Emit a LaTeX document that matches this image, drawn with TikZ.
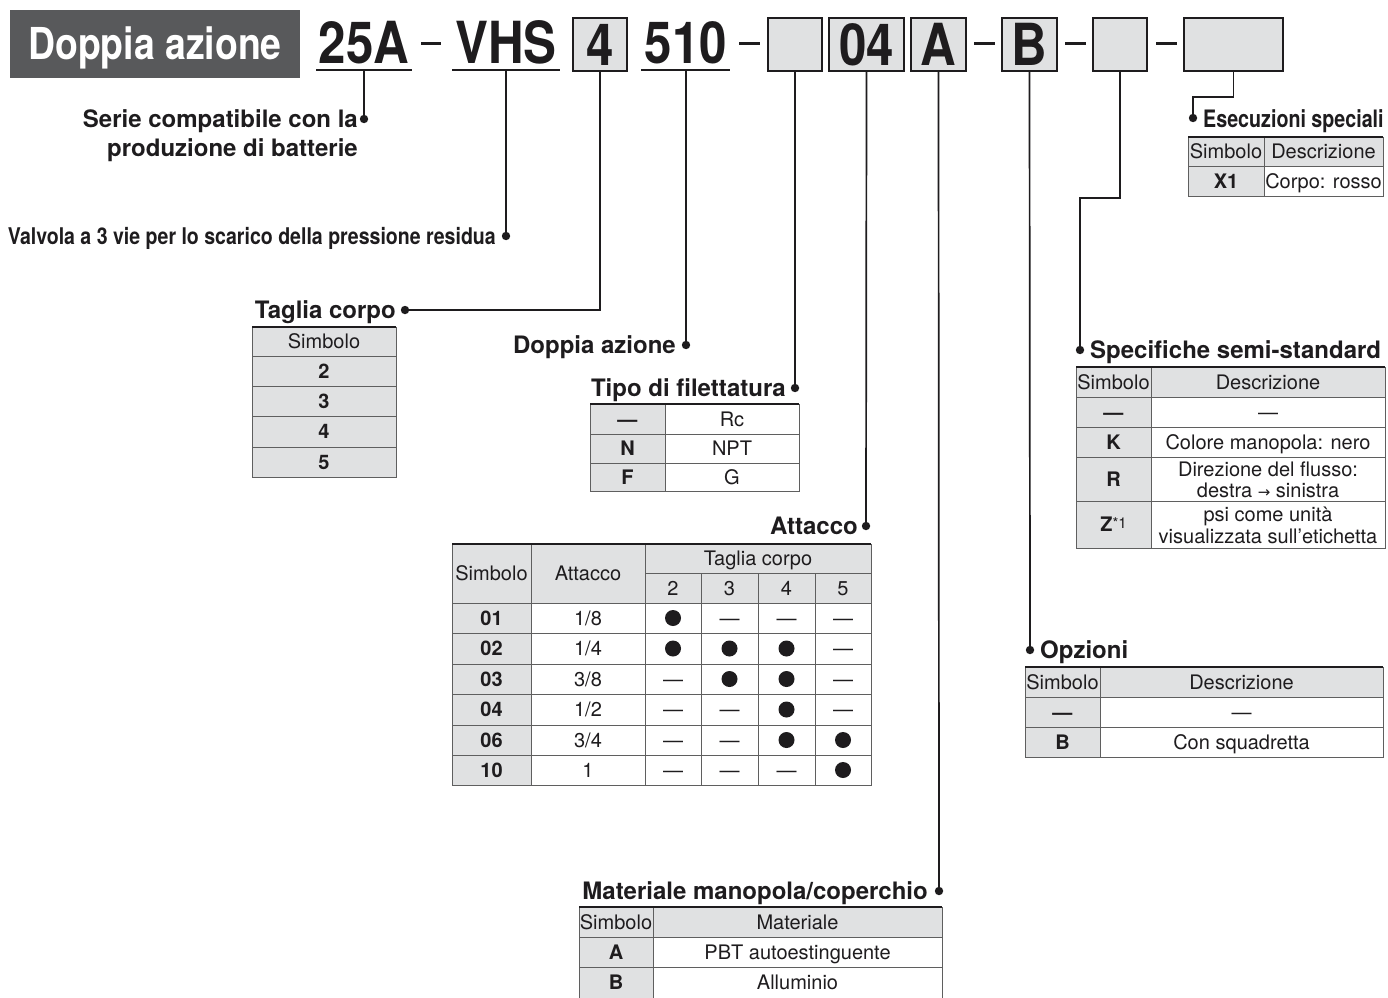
\documentclass[tikz,border=0pt]{standalone}
\usepackage{fontspec}
\setmainfont{TeX Gyre Heros}
\newfontfamily\condfont[FakeStretch=0.85]{TeX Gyre Heros}
\newfontfamily\condfontb[FakeStretch=0.82]{TeX Gyre Heros}
\newfontfamily\dejafont{DejaVu Sans}
\definecolor{ink}{RGB}{30,28,30}
\definecolor{titlegray}{RGB}{88,89,91}
\definecolor{cellgray}{RGB}{224,225,226}
\definecolor{tlinecol}{RGB}{95,95,95}
\newcount\cellno
\newcommand\tc[6]{%
  \path[fill=#5,draw=tlinecol,line width=0.9] (#1,#2) rectangle (#3,#4);
  \global\advance\cellno by 1
  \node[ttext] (cell\the\cellno) at ({(#1+#3)/2},{(#2+#4)/2}) {#6};}
\newcommand\tcdot[5]{%
  \path[fill=#5,draw=tlinecol,line width=0.9] (#1,#2) rectangle (#3,#4);
  \fill[ink] ({(#1+#3)/2},{(#2+#4)/2}) circle (8);}
\newcommand\topline[3]{\draw[line width=2.4,ink] (#1,#3) -- (#2,#3);}
\begin{document}
\begin{tikzpicture}[x=1pt,y=-1pt,
  ttext/.style={font=\fontsize{20}{24}\selectfont, text=ink, text height=14pt, text depth=0pt, inner sep=0pt, anchor=center},
  lbl/.style={font=\fontsize{24}{28}\selectfont\bfseries, text=ink, inner sep=0pt},
  codetext/.style={font=\condfont\fontsize{58}{60}\selectfont\bfseries, text=ink, inner sep=0pt},
  codebox/.style={draw=ink, line width=2, fill=cellgray, inner sep=0pt, minimum height=53,
     font=\condfont\fontsize{58}{60}\selectfont\bfseries, text=ink, text height=41.5pt, text depth=0pt},
  conn/.style={line width=1.7, ink},
  codedash/.style={line width=3, ink}]
\useasboundingbox (0,0) rectangle (1388,997);
\fill[white] (0,0) rectangle (1388,997);

% ---------- title and code ----------
\node[fill=titlegray, minimum width=290, minimum height=68, inner sep=0pt,
      font=\condfont\fontsize{44}{48}\selectfont\bfseries, text=white, text height=31.5pt, text depth=0pt]
      (title) at (155,44) {Doppia azione};

\node[codetext, anchor=base] (c25) at (364,63) {25A};
\draw[line width=2, ink] (316,70) -- (412,70);
\draw[codedash] (421,43) -- (441,43);
\node[codetext, anchor=base] (cvhs) at (506,63) {VHS};
\draw[line width=2, ink] (452,70) -- (560,70);
\node[codebox, minimum width=54] (b4) at (600,44.5) {4};
\node[codetext, anchor=base] (c510) at (686,63) {510};
\draw[line width=2, ink] (641,70) -- (730,70);
\draw[codedash] (739,43) -- (760,43);
\node[codebox, minimum width=54] (b5) at (795,44.5) {};
\node[codebox, minimum width=75] (b6) at (866.5,44.5) {04};
\node[codebox, minimum width=55] (b7) at (938.5,44.5) {A};
\draw[codedash] (974,43) -- (995,43);
\node[codebox, minimum width=55] (b8) at (1029.5,44.5) {B};
\draw[codedash] (1065,43) -- (1086,43);
\node[codebox, minimum width=54] (b9) at (1120,44.5) {};
\draw[codedash] (1156,43) -- (1177,43);
\node[codebox, minimum width=99] (b10) at (1233.5,44.5) {};

% ---------- coordinates ----------
\coordinate (u1) at (364,71);
\coordinate (u2) at (506,71);
\coordinate (u3) at (686,71);
\coordinate (d1) at (364,119);
\coordinate (d2) at (506,236);
\coordinate (d3) at (405,310);
\coordinate (d4) at (686,345);
\coordinate (d5) at (795,388);
\coordinate (d6) at (866,526);
\coordinate (d7) at (939,891);
\coordinate (d8) at (1030,650);
\coordinate (d9) at (1080,350);
\coordinate (k9) at (1080,198);
\coordinate (d10) at (1193,118);
\coordinate (k10) at (1193,97);

% ---------- connectors ----------
\draw[conn] (u1) -- (d1);
\draw[conn] (u2) -- (d2);
\draw[conn] (b4.south) |- (d3);
\draw[conn] (u3) -- (d4);
\draw[conn] (b5.south) -- (d5);
\draw[conn] (b6.south) -- (d6);
\draw[conn] (b7.south) -- (d7);
\draw[conn] (b8.south) -- (d8);
\draw[conn] (b9.south) |- (k9) -- (d9);
\draw[conn] (b10.south) |- (k10) -- (d10);
\foreach \d in {d1,d2,d3,d4,d5,d6,d7,d8,d9,d10} \fill[ink] (\d) circle (4.2);

% ---------- labels ----------
\node[lbl, anchor=base east] (l1a) at (358,127) {Serie compatibile con la};
\node[lbl, anchor=base east] (l1b) at (358,156) {produzione di batterie};
\node[lbl, font=\condfont\fontsize{23}{26}\selectfont\bfseries, anchor=base east] (l2) at (496,244) {Valvola a 3 vie per lo scarico della pressione residua};
\node[lbl, anchor=base east] (l3) at (396,318) {Taglia corpo};
\node[lbl, anchor=base east] (l4) at (676,353) {Doppia azione};
\node[lbl, anchor=base east] (l5) at (786,396) {Tipo di filettatura};
\node[lbl, anchor=base east] (l6) at (858,534) {Attacco};
\node[lbl, anchor=base east] (l7) at (928,899) {Materiale manopola/coperchio};
\node[lbl, anchor=base west] (l8) at (1040,658) {Opzioni};
\node[lbl, anchor=base west] (l9) at (1090,358) {Specifiche semi-standard};
\node[lbl, font=\condfontb\fontsize{24}{28}\selectfont\bfseries, anchor=base west] (l10) at (1203,127) {Esecuzioni speciali};

% ---------- Taglia corpo table ----------
\tc{252}{327}{396}{356}{cellgray}{Simbolo}
\tc{252}{356}{396}{386}{cellgray}{\textbf{2}}
\tc{252}{386}{396}{416}{cellgray}{\textbf{3}}
\tc{252}{416}{396}{447}{cellgray}{\textbf{4}}
\tc{252}{447}{396}{477}{cellgray}{\textbf{5}}
\topline{252}{396}{327}

% ---------- Tipo di filettatura ----------
\tc{590}{404}{665}{434}{cellgray}{\textbf{—}}
\tc{665}{404}{799}{434}{white}{Rc}
\tc{590}{434}{665}{463}{cellgray}{\textbf{N}}
\tc{665}{434}{799}{463}{white}{NPT}
\tc{590}{463}{665}{491}{cellgray}{\textbf{F}}
\tc{665}{463}{799}{491}{white}{G}
\topline{590}{799}{404}

% ---------- Attacco ----------
\tc{452}{544}{531}{603}{cellgray}{Simbolo}
\tc{531}{544}{645}{603}{cellgray}{Attacco}
\tc{645}{544}{871}{573}{cellgray}{Taglia corpo}
\tc{645}{573}{701}{603}{cellgray}{2}
\tc{701}{573}{758}{603}{cellgray}{3}
\tc{758}{573}{815}{603}{cellgray}{4}
\tc{815}{573}{871}{603}{cellgray}{5}
% rows
\tc{452}{603}{531}{633}{cellgray}{\textbf{01}}
\tc{531}{603}{645}{633}{white}{1/8}
\tcdot{645}{603}{701}{633}{white}
\tc{701}{603}{758}{633}{white}{—}
\tc{758}{603}{815}{633}{white}{—}
\tc{815}{603}{871}{633}{white}{—}
\tc{452}{633}{531}{664}{cellgray}{\textbf{02}}
\tc{531}{633}{645}{664}{white}{1/4}
\tcdot{645}{633}{701}{664}{white}
\tcdot{701}{633}{758}{664}{white}
\tcdot{758}{633}{815}{664}{white}
\tc{815}{633}{871}{664}{white}{—}
\tc{452}{664}{531}{694}{cellgray}{\textbf{03}}
\tc{531}{664}{645}{694}{white}{3/8}
\tc{645}{664}{701}{694}{white}{—}
\tcdot{701}{664}{758}{694}{white}
\tcdot{758}{664}{815}{694}{white}
\tc{815}{664}{871}{694}{white}{—}
\tc{452}{694}{531}{725}{cellgray}{\textbf{04}}
\tc{531}{694}{645}{725}{white}{1/2}
\tc{645}{694}{701}{725}{white}{—}
\tc{701}{694}{758}{725}{white}{—}
\tcdot{758}{694}{815}{725}{white}
\tc{815}{694}{871}{725}{white}{—}
\tc{452}{725}{531}{755}{cellgray}{\textbf{06}}
\tc{531}{725}{645}{755}{white}{3/4}
\tc{645}{725}{701}{755}{white}{—}
\tc{701}{725}{758}{755}{white}{—}
\tcdot{758}{725}{815}{755}{white}
\tcdot{815}{725}{871}{755}{white}
\tc{452}{755}{531}{785}{cellgray}{\textbf{10}}
\tc{531}{755}{645}{785}{white}{1}
\tc{645}{755}{701}{785}{white}{—}
\tc{701}{755}{758}{785}{white}{—}
\tc{758}{755}{815}{785}{white}{—}
\tcdot{815}{755}{871}{785}{white}
\topline{452}{871}{544}

% ---------- Esecuzioni speciali ----------
\tc{1188}{137}{1264}{166}{cellgray}{Simbolo}
\tc{1264}{137}{1383}{166}{cellgray}{Descrizione}
\tc{1188}{166}{1264}{196}{cellgray}{\textbf{X1}}
\tc{1264}{166}{1383}{196}{white}{Corpo: rosso}
\topline{1188}{1383}{137}

% ---------- Specifiche semi-standard ----------
\tc{1076}{367}{1151}{397}{cellgray}{Simbolo}
\tc{1151}{367}{1385}{397}{cellgray}{Descrizione}
\tc{1076}{397}{1151}{427}{cellgray}{\textbf{—}}
\tc{1151}{397}{1385}{427}{white}{—}
\tc{1076}{427}{1151}{457}{cellgray}{\textbf{K}}
\tc{1151}{427}{1385}{457}{white}{Colore manopola: nero}
\tc{1076}{457}{1151}{501}{cellgray}{\textbf{R}}
\tc{1151}{457}{1385}{501}{white}{}
\node[ttext] (r1) at (1268,469) {Direzione del flusso:};
\node[ttext] (r2) at (1268,490) {destra {\dejafont\fontsize{15}{18}\selectfont →} sinistra};
\tc{1076}{501}{1151}{548}{cellgray}{\textbf{Z}\raisebox{3pt}{\fontsize{15}{16}\selectfont *1}}
\tc{1151}{501}{1385}{548}{white}{}
\node[ttext] (z1) at (1268,514) {psi come unità};
\node[ttext] (z2) at (1268,536) {visualizzata sull’etichetta};
\topline{1076}{1385}{367}

% ---------- Opzioni ----------
\tc{1025}{667}{1100}{697}{cellgray}{Simbolo}
\tc{1100}{667}{1383}{697}{cellgray}{Descrizione}
\tc{1025}{697}{1100}{727}{cellgray}{\textbf{—}}
\tc{1100}{697}{1383}{727}{white}{—}
\tc{1025}{727}{1100}{757}{cellgray}{\textbf{B}}
\tc{1100}{727}{1383}{757}{white}{Con squadretta}
\topline{1025}{1383}{667}

% ---------- Materiale manopola/coperchio ----------
\tc{579}{907}{653}{937}{cellgray}{Simbolo}
\tc{653}{907}{942}{937}{cellgray}{Materiale}
\tc{579}{937}{653}{967}{cellgray}{\textbf{A}}
\tc{653}{937}{942}{967}{white}{PBT autoestinguente}
\tc{579}{967}{653}{998}{cellgray}{\textbf{B}}
\tc{653}{967}{942}{998}{white}{Alluminio}
\topline{579}{942}{907}
\end{tikzpicture}
\end{document}
